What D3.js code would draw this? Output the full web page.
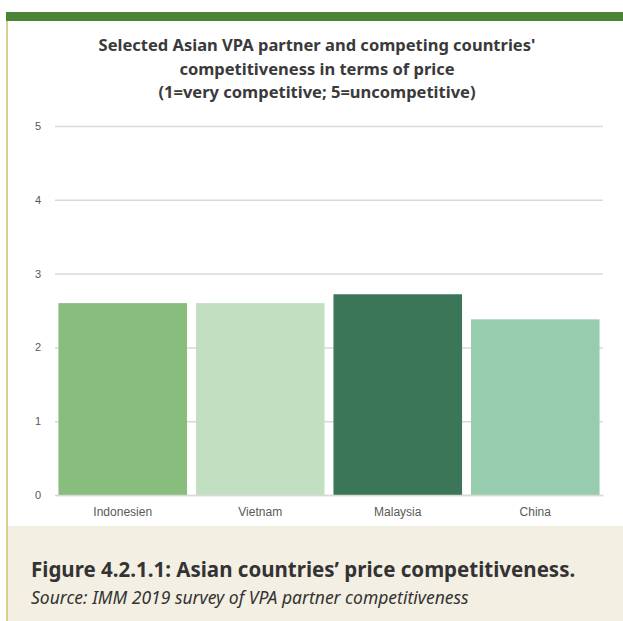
<!DOCTYPE html>
<html>
<head>
<meta charset="utf-8">
<script src="https://cdn.jsdelivr.net/npm/d3@7"></script>
<style>
  body { margin: 0; background: #fff; }
  svg { display: block; font-family: "Noto Sans", sans-serif; }
</style>
</head>
<body>
<svg id="svg" width="623" height="621"></svg>
<script>
const countries = ["Indonesien", "Vietnam", "Malaysia", "China"];
const scores = [2.6, 2.6, 2.72, 2.38];
const barColors = ["#88bd7e", "#c2dfc2", "#3a7657", "#97cdae"];
const yTicks = [0, 1, 2, 3, 4, 5];
const titleLines = [
    "Selected Asian VPA partner and competing countries'",
    "competitiveness in terms of price",
    "(1=very competitive; 5=uncompetitive)"
];
const captionTitle = "Figure 4.2.1.1: Asian countries\u2019 price competitiveness.";
const captionSource = "Source: IMM 2019 survey of VPA partner competitiveness";

const svg = d3.select("#svg");

// frame: green top band, gold left rule, beige caption panel
svg.append("rect").attr("x", 7).attr("y", 526).attr("width", 616).attr("height", 95).attr("fill", "#f3efe3");
svg.append("rect").attr("x", 6).attr("y", 12).attr("width", 617).attr("height", 9).attr("fill", "#4b8434");
svg.append("rect").attr("x", 6).attr("y", 21).attr("width", 2).attr("height", 600).attr("fill", "#d9cd91");

// chart title
svg.append("g").selectAll("text")
    .data(titleLines)
    .join("text")
    .attr("x", 317)
    .attr("y", (d, i) => 51 + i * 23.5)
    .attr("text-anchor", "middle")
    .attr("font-size", 16.5)
    .attr("font-weight", "bold")
    .attr("fill", "#3a3a3a")
    .text(d => d);

const margins = { top: 126, left: 55, right: 20, bottom: 126 };
const chartWidth = 603 - margins.left;
const chartHeight = 495 - margins.top;

const xScale = d3.scaleBand()
    .domain(countries)
    .range([0, chartWidth])
    .paddingInner(0.065)
    .paddingOuter(0.025);

const yScale = d3.scaleLinear()
    .domain([0, 5])
    .range([chartHeight, 0]);

const chart = svg.append("g")
    .attr("transform", `translate(${margins.left},${margins.top})`);

// y axis with gridlines
const yAxis = d3.axisLeft(yScale)
    .tickValues(yTicks)
    .tickFormat(d3.format("d"))
    .tickSize(-chartWidth)
    .tickPadding(14);

chart.append("g")
    .call(yAxis)
    .call(g => g.select(".domain").remove())
    .call(g => g.selectAll(".tick line").attr("stroke", "#d9d9d9").attr("stroke-width", 1.5))
    .call(g => g.selectAll(".tick text").attr("fill", "#595959").attr("font-size", 11));

// bars
chart.selectAll("rect.bar")
    .data(countries)
    .join("rect")
    .attr("class", "bar")
    .attr("x", d => xScale(d))
    .attr("width", xScale.bandwidth())
    .attr("y", (d, i) => yScale(scores[i]))
    .attr("height", (d, i) => chartHeight - yScale(scores[i]))
    .attr("fill", (d, i) => barColors[i]);

// x axis
const xAxis = d3.axisBottom(xScale).tickSize(0).tickPadding(12);
chart.append("g")
    .attr("transform", `translate(0,${chartHeight})`)
    .call(xAxis)
    .call(g => g.select(".domain").attr("stroke", "#d9d9d9").attr("stroke-width", 1.5))
    .call(g => g.selectAll(".tick text").attr("fill", "#595959").attr("font-size", 12));

// caption
svg.append("text")
    .attr("x", 31)
    .attr("y", 577)
    .attr("font-size", 20.5)
    .attr("font-weight", "bold")
    .attr("fill", "#333")
    .text(captionTitle);

svg.append("text")
    .attr("x", 31)
    .attr("y", 604)
    .attr("font-size", 17.5)
    .attr("font-style", "italic")
    .attr("fill", "#333")
    .text(captionSource);
</script>
</body>
</html>
